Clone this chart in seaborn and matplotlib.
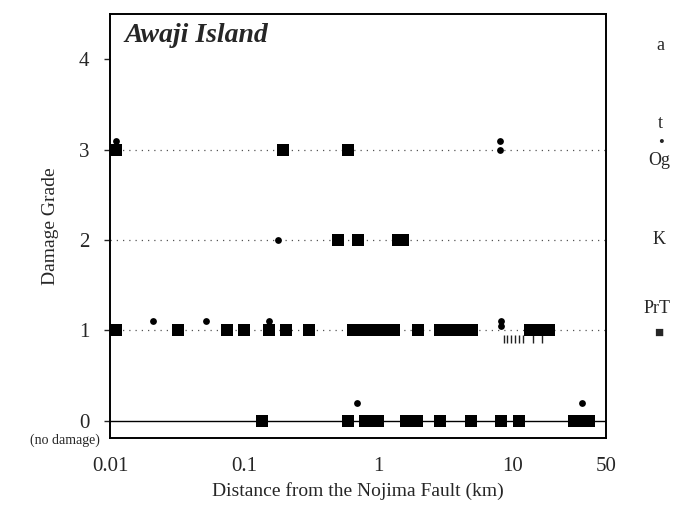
import numpy as np
import pandas as pd
import seaborn as sns
import matplotlib
matplotlib.use("Agg")
import matplotlib.pyplot as plt

# PrT sites (squares): distance (km), damage grade
prt_dist = [0.011, 0.195, 0.60,
            0.50, 0.71, 1.41, 1.53,
            0.011, 0.032, 0.074, 0.10, 0.153, 0.205, 0.303,
            0.65, 0.72, 0.80, 0.88, 0.97, 1.07, 1.18, 1.30,
            1.98, 2.9, 3.3, 3.7, 4.1, 4.5, 5.0,
            13.5, 15.0, 16.8, 18.8,
            0.136, 0.60, 0.80, 0.87, 0.93, 1.0, 1.6, 1.75, 1.95,
            2.9, 4.9, 8.2, 11.3, 29, 32, 35, 37]
prt_grade = [3, 3, 3,
             2, 2, 2, 2,
             1, 1, 1, 1, 1, 1, 1,
             1, 1, 1, 1, 1, 1, 1, 1,
             1, 1, 1, 1, 1, 1, 1,
             1, 1, 1, 1,
             0, 0, 0, 0, 0, 0, 0, 0, 0,
             0, 0, 0, 0, 0, 0, 0, 0]

# Og sites (dots), plotted slightly above the grade line where they overlap
og_dist = [0.011, 8.1, 8.1, 0.18, 0.021, 0.052, 0.153, 8.3, 8.3, 0.70, 33]
og_grade = [3.1, 3.1, 3.0, 2.0, 1.1, 1.1, 1.1, 1.1, 1.05, 0.2, 0.2]

# small tick-like marks below grade 1
k_dist = [8.6, 9.2, 9.8, 10.5, 11.3, 12.0, 14.2, 16.5]
k_grade = [0.9, 0.9, 0.9, 0.9, 0.9, 0.9, 0.9, 0.9]

x_ticks = [0.01, 0.1, 1, 10, 50]
x_labels = ["0.01", "0.1", "1", "10", "50"]
y_ticks = [0, 1, 2, 3, 4]

sns.set_style("ticks")
plt.rcParams["font.family"] = ["Liberation Serif", "DejaVu Serif"]

fig = plt.figure(figsize=(6.81, 5.05), dpi=100)
ax = fig.add_axes([0.1615, 0.1327, 0.7285, 0.8393])

for g in [1, 2, 3]:
    ax.axhline(g, color="#555555", lw=0.9, ls=(0, (1, 4)), zorder=1)
ax.axhline(0, color="black", lw=1.0, zorder=1)

prt_df = pd.DataFrame({"dist": prt_dist, "grade": prt_grade})
og_df = pd.DataFrame({"dist": og_dist, "grade": og_grade})
k_df = pd.DataFrame({"dist": k_dist, "grade": k_grade})

sns.scatterplot(data=prt_df, x="dist", y="grade", marker="s", s=68,
                color="black", linewidth=0, ax=ax, zorder=3)
sns.scatterplot(data=og_df, x="dist", y="grade", marker="o", s=24,
                color="black", linewidth=0, ax=ax, zorder=4)
sns.scatterplot(data=k_df, x="dist", y="grade", marker="|", s=40,
                color="#222222", linewidth=1.0, ax=ax, zorder=2)

ax.set_xscale("log")
ax.set_xlim(0.01, 50)
ax.set_ylim(-0.19, 4.5)
ax.set_xticks(x_ticks)
ax.set_xticklabels(x_labels)
ax.minorticks_off()
ax.set_yticks(y_ticks)
ax.tick_params(axis="x", length=0, labelsize=15, pad=14)
ax.tick_params(axis="y", length=4, width=1, labelsize=15, pad=11)
for sp in ax.spines.values():
    sp.set_linewidth(1.4)
    sp.set_color("black")

ax.set_xlabel("Distance from the Nojima Fault (km)", fontsize=14, labelpad=4)
ax.set_ylabel("Damage Grade", fontsize=14, labelpad=14)
ax.text(0.03, 0.98, "Awaji Island", transform=ax.transAxes, fontsize=20,
        fontweight="bold", fontstyle="italic", va="top", ha="left")
fig.text(0.096, 0.128, "(no damage)", fontsize=10, ha="center", va="center")

# side labels
fig.text(0.970, 0.910, "a", fontsize=13, ha="center", va="center")
fig.text(0.970, 0.755, "t", fontsize=13, ha="center", va="center")
fig.text(0.970, 0.716, "\u2022", fontsize=12, ha="center", va="center")
fig.text(0.968, 0.683, "Og", fontsize=13, ha="center", va="center")
fig.text(0.968, 0.525, "K", fontsize=13, ha="center", va="center")
fig.text(0.965, 0.390, "PrT", fontsize=13, ha="center", va="center")
fig.text(0.967, 0.340, "\u25a0", fontsize=11, ha="center", va="center")

fig.savefig("out.png", dpi=100, facecolor="white")
